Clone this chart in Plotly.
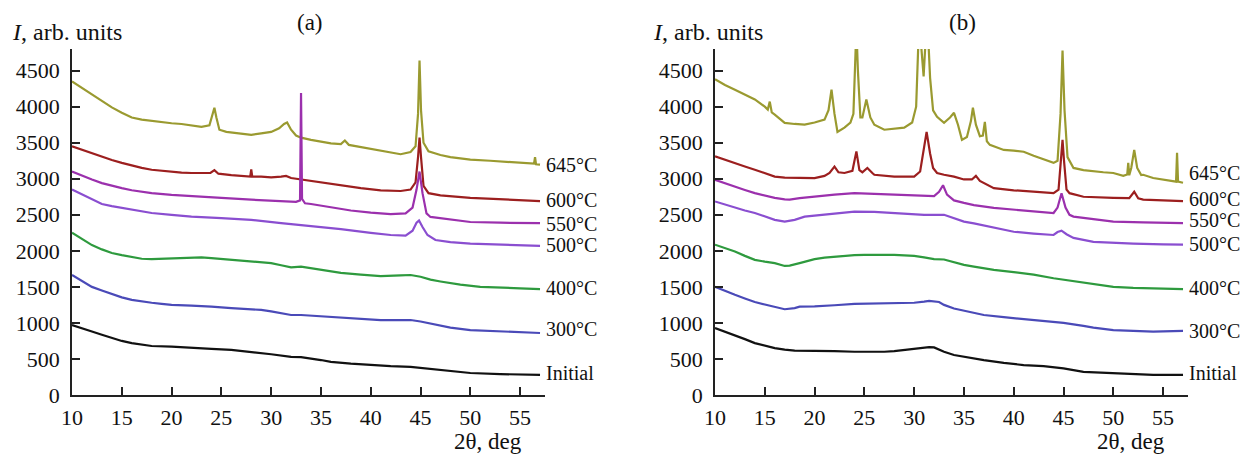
import plotly.graph_objects as go

# ---------------- Panel (a) ----------------
a645_x = [10, 11, 12, 13, 14, 15, 16, 17, 18, 19, 20, 21, 22, 23, 23.8, 24.1, 24.3, 24.5, 24.8, 25.5, 26, 27, 28, 29, 30, 30.8, 31.3, 31.6, 32, 32.5, 33, 34, 35, 36, 37, 37.4, 37.8, 39, 40, 41, 42, 43, 44, 44.5, 44.75, 44.9, 45.05, 45.3, 45.8, 47, 48, 50, 52, 54, 55, 56, 56.4, 56.5, 56.6, 57]
a645_y = [4350, 4260, 4170, 4080, 3990, 3917, 3850, 3820, 3800, 3785, 3770, 3760, 3740, 3720, 3740, 3880, 3985, 3850, 3680, 3650, 3640, 3620, 3610, 3630, 3650, 3700, 3760, 3780, 3680, 3600, 3570, 3540, 3510, 3490, 3480, 3530, 3470, 3440, 3410, 3380, 3360, 3340, 3370, 3450, 3900, 4640, 3950, 3500, 3380, 3330, 3300, 3265, 3250, 3230, 3220, 3210, 3210, 3300, 3200, 3195]

a600_x = [10, 11, 12, 13, 14, 15, 16, 17, 18, 19, 20, 21, 22, 23, 23.9, 24.3, 24.7, 26, 27, 27.9, 28.0, 28.1, 29, 30, 31, 31.5, 32, 33, 35, 37, 39, 41, 43, 44, 44.5, 44.75, 44.9, 45.05, 45.3, 45.8, 47, 50, 53, 57]
a600_y = [3450, 3400, 3360, 3310, 3260, 3220, 3180, 3150, 3125, 3110, 3095, 3085, 3080, 3080, 3080, 3120, 3070, 3050, 3040, 3030, 3130, 3030, 3030, 3020, 3030, 3040, 3010, 2990, 2945, 2900, 2870, 2840, 2830, 2850, 2950, 3300, 3570, 3300, 2900, 2800, 2770, 2735, 2715, 2690]

a550_x = [10, 11, 12, 13, 14, 15, 16, 17, 18, 20, 22, 25, 28, 31, 32.5, 32.9, 33.0, 33.1, 33.4, 34, 36, 38, 40, 42, 43.5, 44.2, 44.6, 44.9, 45.2, 45.6, 46, 48, 50, 53, 57]
a550_y = [3100, 3040, 2990, 2940, 2900, 2870, 2840, 2815, 2800, 2775, 2755, 2735, 2710, 2690, 2680, 2700, 4190, 2720, 2660, 2650, 2600, 2560, 2530, 2510, 2520, 2600, 2850, 3100, 2800, 2520, 2470, 2430, 2400, 2390, 2385]

a500_x = [10, 11, 12, 13, 14, 15, 16, 17, 18, 20, 22, 25, 28, 31, 33, 35, 37, 40, 42, 43.5, 44.2, 44.6, 44.85, 45.2, 45.7, 46.5, 48, 50, 53, 57]
a500_y = [2850, 2780, 2710, 2650, 2620, 2595, 2565, 2545, 2525, 2500, 2475, 2455, 2430, 2385, 2360, 2335, 2300, 2250, 2220, 2210, 2280, 2390, 2420, 2330, 2220, 2150, 2120, 2100, 2085, 2070]

a400_x = [10, 11, 12, 13, 14, 15, 16, 17, 18, 19, 20, 21, 22, 23, 24, 25, 26, 27, 28, 29, 30, 31, 32, 33, 35, 37, 39, 41, 43, 44, 45, 46, 47, 49, 51, 53, 55, 57]
a400_y = [2250, 2170, 2080, 2020, 1970, 1940, 1920, 1890, 1885, 1890, 1895, 1905, 1915, 1910, 1900, 1890, 1875, 1865, 1850, 1840, 1830, 1800, 1770, 1780, 1735, 1695, 1670, 1650, 1660, 1665, 1640, 1600, 1575, 1530, 1500, 1485, 1480, 1470]

a300_x = [10, 11, 12, 13, 14, 15, 16, 17, 18, 19, 20, 22, 23, 24, 26, 28, 29, 30, 31, 32, 33, 35, 37, 39, 41, 43, 44, 45, 46, 47, 48, 50, 53, 55, 57]
a300_y = [1665, 1580, 1500, 1450, 1400, 1355, 1320, 1295, 1280, 1265, 1250, 1240, 1235, 1225, 1205, 1190, 1180, 1160, 1135, 1110, 1110, 1090, 1070, 1055, 1040, 1040, 1040, 1020, 990, 960, 935, 900, 880, 870, 860]

a0_x = [10, 11, 12, 13, 14, 15, 16, 17, 18, 20, 21, 23, 24, 26, 28, 29, 30, 32, 33, 35, 36, 38, 40, 42, 44, 45, 47, 49, 50, 53, 57]
a0_y = [970, 930, 880, 835, 790, 750, 720, 695, 680, 670, 665, 650, 640, 625, 600, 585, 565, 530, 525, 485, 460, 435, 415, 400, 390, 375, 350, 320, 305, 290, 280]

# ---------------- Panel (b) ----------------
b645_x = [10, 11, 12, 13, 14, 15, 15.3, 15.5, 15.7, 16, 16.5, 17, 18, 19, 20, 21, 21.4, 21.7, 22.0, 22.3, 23, 23.6, 23.9, 24.05, 24.2, 24.35, 24.6, 24.8, 25.2, 25.6, 26, 27, 28, 29, 29.8, 30.2, 30.5, 30.8, 30.95, 31.1, 31.3, 31.6, 31.9, 32.3, 33, 33.6, 34, 34.4, 34.8, 35.3, 35.7, 35.9, 36.2, 36.6, 36.9, 37.1, 37.3, 37.6, 38, 39, 40, 41, 42, 43, 44, 44.4, 44.7, 44.9, 45.1, 45.4, 46, 47, 48, 49, 50, 51, 51.4, 51.5, 51.6, 51.8, 52.1, 52.4, 52.8, 53, 54, 55, 56, 56.3, 56.4, 56.5, 57]
b645_y = [4380, 4300, 4235, 4170, 4100, 4000, 3960, 4070, 3920, 3890, 3830, 3775, 3760, 3750, 3780, 3820, 3950, 4235, 3900, 3650, 3710, 3780, 3900, 4600, 5100, 4500, 3850, 3850, 4100, 3850, 3750, 3680, 3690, 3710, 3780, 4000, 5200, 4700, 4420, 4800, 5300, 4400, 3950, 3860, 3775, 3850, 3915, 3750, 3540, 3580, 3800, 3985, 3750, 3590, 3600, 3790, 3520, 3470, 3450, 3400, 3390, 3375, 3320, 3265, 3220, 3250, 3900, 4780, 3950, 3300, 3150, 3120, 3100, 3090, 3080, 3040, 3060, 3220, 3050, 3150, 3400, 3150, 3050, 3055, 3010, 2985, 2960, 2960, 3360, 2960, 2945]

b600_x = [10, 11, 12, 13, 14, 15, 16, 17, 18, 20, 21, 21.5, 22, 22.4, 23, 23.8, 24.2, 24.5, 24.8, 25.3, 25.8, 26, 28, 30, 30.6, 30.9, 31.25, 31.6, 31.9, 32.3, 33, 34, 35, 35.8, 36.2, 36.6, 38, 40, 42, 44, 44.5, 44.75, 44.9, 45.05, 45.3, 45.6, 47, 50, 51.6, 52.1, 52.5, 53, 55, 57]
b600_y = [3310, 3260, 3220, 3170, 3125, 3075, 3030, 3015, 3010, 3010, 3040, 3080, 3170, 3090, 3080, 3110, 3380, 3120, 3090, 3150, 3080, 3055, 3030, 3030, 3100, 3350, 3650, 3350, 3150, 3080, 3055, 3030, 2990, 2990, 3040, 2970, 2870, 2840, 2820, 2800, 2850, 3250, 3540, 3250, 2850, 2800, 2750, 2735, 2730, 2820, 2730, 2710, 2700, 2690]

b550_x = [10, 11, 12, 13, 14, 15, 16, 17, 17.5, 18.5, 20, 22, 24, 26, 28, 30, 31, 32, 32.5, 32.9, 33.3, 34, 35, 36, 38, 40, 42, 44, 44.4, 44.8, 45.2, 45.6, 46, 48, 50, 53, 57]
b550_y = [2985, 2935, 2890, 2845, 2800, 2765, 2735, 2715, 2710, 2730, 2755, 2780, 2800, 2790, 2780, 2770, 2755, 2760, 2820, 2910, 2780, 2700, 2665, 2635, 2595, 2570, 2545, 2525, 2600, 2800, 2600, 2500, 2475, 2440, 2405, 2395, 2385]

b500_x = [10, 11, 12, 13, 14, 15, 16, 17, 18, 19, 20, 21, 22, 24, 26, 28, 30, 31, 33, 34, 35, 36, 38, 40, 42, 44, 44.4, 44.8, 45.3, 46, 48, 50, 52, 55, 57]
b500_y = [2685, 2640, 2595, 2560, 2525, 2480, 2430, 2405, 2430, 2475, 2490, 2500, 2520, 2545, 2540, 2525, 2510, 2500, 2500, 2450, 2405, 2380, 2320, 2265, 2240, 2220, 2260, 2280, 2230, 2180, 2125, 2110, 2100, 2090, 2085]

b400_x = [10, 11, 12, 13, 14, 15, 16, 17, 17.5, 18.5, 19, 20, 21, 22, 23, 24, 25, 26, 27, 28, 29, 30, 31, 32, 33, 34, 35, 36, 38, 40, 41, 42, 44, 45, 46, 48, 49, 50, 52, 55, 57]
b400_y = [2085, 2040, 1990, 1930, 1875, 1850, 1830, 1790, 1795, 1830, 1850, 1885, 1905, 1920, 1930, 1940, 1945, 1950, 1945, 1945, 1940, 1930, 1910, 1885, 1880, 1840, 1805, 1780, 1735, 1705, 1690, 1670, 1620, 1600, 1570, 1530, 1510, 1500, 1485, 1475, 1470]

b300_x = [10, 11, 12, 13, 14, 15, 16, 17, 18, 18.5, 20, 21, 22, 24, 26, 27, 28, 30, 31, 31.5, 32.5, 33, 34, 35, 37, 39, 41, 43, 44, 45, 47, 48, 50, 52, 54, 57]
b300_y = [1500, 1440, 1390, 1340, 1290, 1255, 1225, 1190, 1205, 1225, 1230, 1235, 1245, 1265, 1270, 1275, 1275, 1280, 1295, 1305, 1290, 1250, 1200, 1170, 1110, 1080, 1055, 1035, 1020, 1000, 960, 935, 900, 890, 880, 890]

b0_x = [10, 11, 12, 13, 14, 15, 16, 17, 18, 20, 21, 22, 24, 26, 27, 28, 29, 30, 31, 31.5, 32, 32.5, 33, 34, 35, 37, 39, 41, 43, 44, 45, 47, 49, 50, 52, 54, 57]
b0_y = [930, 880, 835, 775, 720, 680, 650, 630, 615, 612, 615, 610, 600, 598, 600, 610, 625, 640, 655, 665, 660, 630, 600, 555, 530, 485, 445, 415, 400, 390, 370, 320, 310, 305, 290, 280, 280]

series_labels = ["645°C", "600°C", "550°C", "500°C", "400°C", "300°C", "Initial"]
series_colors = ["#9a9a30", "#9c1f1f", "#9b30ad", "#8a4ed0", "#2e9a3e", "#4a4ab8", "#111111"]
label_y_a = [3195, 2710, 2375, 2085, 1485, 915, 305]
label_y_b = [3085, 2720, 2430, 2100, 1485, 890, 305]

panel_a = [(a645_x, a645_y), (a600_x, a600_y), (a550_x, a550_y), (a500_x, a500_y),
           (a400_x, a400_y), (a300_x, a300_y), (a0_x, a0_y)]
panel_b = [(b645_x, b645_y), (b600_x, b600_y), (b550_x, b550_y), (b500_x, b500_y),
           (b400_x, b400_y), (b300_x, b300_y), (b0_x, b0_y)]

x_ticks = [10, 15, 20, 25, 30, 35, 40, 45, 50, 55]
y_ticks = [0, 500, 1000, 1500, 2000, 2500, 3000, 3500, 4000, 4500]

FONT = "Liberation Serif, 'Times New Roman', Times, 'DejaVu Serif', serif"
fig = go.Figure()

for panel, xa, ya in [(panel_a, "x", "y"), (panel_b, "x2", "y2")]:
    for (xs, ys), name, col in zip(panel, series_labels, series_colors):
        fig.add_trace(go.Scatter(x=xs, y=ys, mode="lines", name=name,
                                 line=dict(color=col, width=2.2), xaxis=xa, yaxis=ya,
                                 showlegend=False, hoverinfo="x+y"))

ax_common = dict(showline=True, linecolor="#222", linewidth=1.5, ticks="inside",
                 ticklen=8, tickwidth=1.5, tickcolor="#222", showgrid=False, zeroline=False,
                 automargin=False,
                 tickfont=dict(family=FONT, size=22, color="#111"))

yd = [(455 - 395) / 455, (455 - 49) / 455]
fig.update_layout(
    width=1253, height=455,
    margin=dict(l=0, r=0, t=0, b=0),
    paper_bgcolor="white", plot_bgcolor="white",
    font=dict(family=FONT),
    xaxis=dict(domain=[72 / 1253, 545 / 1253], range=[10, 57.5], tickvals=x_ticks,
               anchor="y", ticklabelstandoff=2, **ax_common),
    yaxis=dict(domain=yd, range=[0, 4800], tickvals=y_ticks, anchor="x",
               ticklabelstandoff=6, **ax_common),
    xaxis2=dict(domain=[715 / 1253, 1188 / 1253], range=[10, 57.5], tickvals=x_ticks,
                anchor="y2", ticklabelstandoff=2, **ax_common),
    yaxis2=dict(domain=yd, range=[0, 4800], tickvals=y_ticks, anchor="x2",
                ticklabelstandoff=6, **ax_common),
)

ann = []
for xr, yr, ly in [("x", "y", label_y_a), ("x2", "y2", label_y_b)]:
    for name, yv in zip(series_labels, ly):
        ann.append(dict(x=57.35, y=yv, xref=xr, yref=yr, text=name, showarrow=False,
                        xanchor="left", yanchor="middle",
                        font=dict(family=FONT, size=20, color="#111")))

for px0, txt in [(10, "<i>I</i>, arb. units"), (651, "<i>I</i>, arb. units")]:
    ann.append(dict(x=px0 / 1253, y=1 - 32 / 455, xref="paper", yref="paper", text=txt,
                    showarrow=False, xanchor="left", yanchor="middle",
                    font=dict(family=FONT, size=24, color="#111")))
for pxc, txt in [(310, "(a)"), (962, "(b)")]:
    ann.append(dict(x=pxc / 1253, y=1 - 22 / 455, xref="paper", yref="paper", text=txt,
                    showarrow=False, xanchor="center", yanchor="middle",
                    font=dict(family=FONT, size=23, color="#111")))
for pxc, txt in [(488, "2θ, deg"), (1131, "2θ, deg")]:
    ann.append(dict(x=pxc / 1253, y=1 - 441 / 455, xref="paper", yref="paper", text=txt,
                    showarrow=False, xanchor="center", yanchor="middle",
                    font=dict(family=FONT, size=23, color="#111")))
fig.update_layout(annotations=ann)

fig.write_html("out.html", config={"displayModeBar": False},
               post_script="document.body.style.margin='0';document.body.style.overflow='hidden';")
